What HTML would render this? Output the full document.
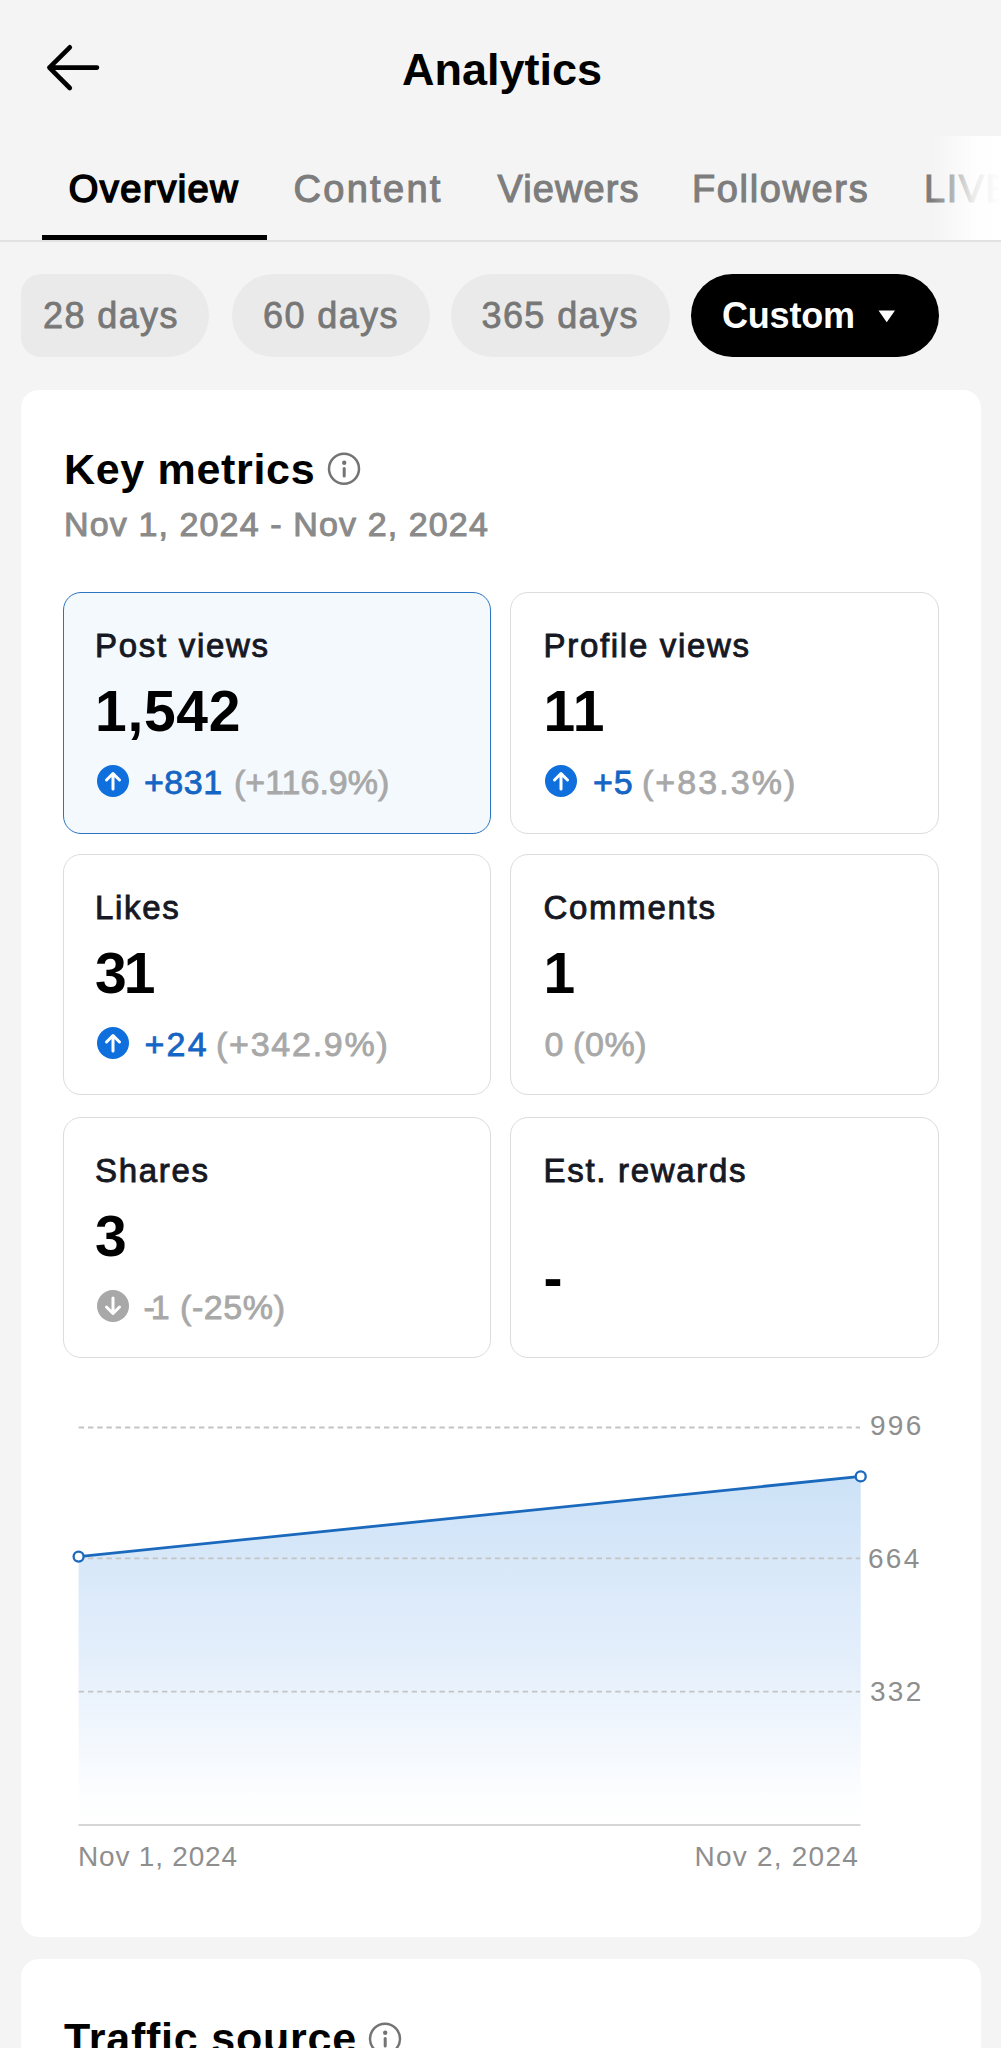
<!DOCTYPE html>
<html><head><meta charset="utf-8"><title>Analytics</title>
<style>
*{margin:0;padding:0;box-sizing:border-box}
html,body{width:1001px;height:2048px;overflow:hidden;background:#f4f4f4}
body{position:relative;font-family:"Liberation Sans",Arial,sans-serif;color:#161823}
.t{position:absolute;line-height:1;white-space:nowrap}
.b{font-weight:bold}
.abs{position:absolute}
.tab{font-size:38px;font-weight:normal;color:#7d7d7d;top:169.6px;-webkit-text-stroke:1.1px currentColor}
.pill{position:absolute;top:274px;height:83px;border-radius:41.5px;background:#eaeaea}
.ptxt{font-size:36px;color:#777;top:297.5px;letter-spacing:1.4px;-webkit-text-stroke:0.8px currentColor}
.card{position:absolute;left:21px;width:960px;background:#fff;border-radius:18px}
.m{position:absolute;width:428px;height:241px;border:1px solid #dcdcdc;border-radius:18px;background:#fff}
.m.r{width:429px}
.m.r>*{margin-left:1.5px}
.m .lbl{position:absolute;left:31px;top:35.7px;font-size:33px;line-height:1;white-space:nowrap;color:#161823;letter-spacing:1.7px;-webkit-text-stroke:0.9px currentColor}
.m .val{position:absolute;left:31px;top:89.7px;font-size:57px;font-weight:bold;line-height:1;white-space:nowrap;color:#000;letter-spacing:0.7px}
.m .chg{position:absolute;left:31px;top:172.2px;font-size:34px;line-height:1;white-space:nowrap;color:#a8a8a8;letter-spacing:0;-webkit-text-stroke:0.8px currentColor}
.m .chg.blue{color:#1565c4}
.m .ico{position:absolute;left:32.5px;top:172.1px;width:32px;height:32px}
.lab{font-size:28px;color:#8e8e8e;letter-spacing:2.3px}
</style></head>
<body>
<!-- header -->
<svg class="abs" style="left:0;top:0" width="120" height="120" viewBox="0 0 120 120"><path d="M69.8 47.3 L49.4 67.6 L69.8 88 M49.4 67.6 H97" fill="none" stroke="#000" stroke-width="4.6" stroke-linecap="round" stroke-linejoin="round"/></svg>
<div class="t b" style="left:402px;top:46.9px;font-size:45px;color:#000">Analytics</div>

<!-- tabs -->
<div class="t tab" style="left:68.8px;color:#000;letter-spacing:1.5px;-webkit-text-stroke:1.7px #000">Overview</div>
<div class="t tab" style="left:293.5px;letter-spacing:2.3px">Content</div>
<div class="t tab" style="left:497.5px;letter-spacing:1.1px">Viewers</div>
<div class="t tab" style="left:692px;letter-spacing:1.63px">Followers</div>
<div class="t tab" style="left:924px;letter-spacing:1.5px">LIVE</div>
<div class="abs" style="left:932px;top:136px;width:69px;height:104px;background:linear-gradient(to right,rgba(255,255,255,0),rgba(255,255,255,0.85) 60%,#fff)"></div>
<div class="abs" style="left:42px;top:234.5px;width:225px;height:5.5px;background:#000"></div>
<div class="abs" style="left:0;top:240px;width:1001px;height:2px;background:#e2e2e2"></div>

<!-- pills -->
<div class="pill" style="left:21px;width:187.5px;border-radius:20px 41.5px 41.5px 20px"></div>
<div class="t ptxt" style="left:43px">28 days</div>
<div class="pill" style="left:231.5px;width:198px"></div>
<div class="t ptxt" style="left:263px">60 days</div>
<div class="pill" style="left:451px;width:219px"></div>
<div class="t ptxt" style="left:481.5px">365 days</div>
<div class="pill" style="left:691px;width:248px;background:#000"></div>
<div class="t b" style="left:722px;top:298.4px;font-size:36px;color:#fff;letter-spacing:-0.2px">Custom</div>
<svg class="abs" style="left:878px;top:310px" width="18" height="13" viewBox="0 0 18 13"><path d="M0.5 0.5 H17 L8.75 12.2 Z" fill="#fff"/></svg>

<!-- main card -->
<div class="card" style="top:390px;height:1547px"></div>
<div class="t b" style="left:64px;top:448.4px;font-size:43px;color:#000;letter-spacing:0.68px">Key metrics</div>
<svg class="abs" style="left:327px;top:452px" width="34" height="34" viewBox="0 0 34 34"><circle cx="17" cy="16.8" r="15" fill="none" stroke="#747474" stroke-width="2.5"/><circle cx="17.2" cy="10.8" r="2.2" fill="#747474"/><path d="M17.2 16.6 V24" stroke="#747474" stroke-width="3" stroke-linecap="round"/></svg>
<div class="t" style="left:64px;top:507.1px;font-size:34px;color:#8a8a8a;letter-spacing:1.12px;-webkit-text-stroke:1px currentColor">Nov 1, 2024 - Nov 2, 2024</div>

<!-- metric cards -->
<div class="m" style="left:63px;top:592px;height:242px;background:#f4f9fd;border-color:#2a74c0">
  <div class="lbl">Post views</div>
  <div class="val">1,542</div>
  <svg class="ico" viewBox="0 0 32 32"><circle cx="16" cy="16" r="16" fill="#0f6fdc"/><path d="M16 24 V9 M9.5 15 L16 8.5 L22.5 15" fill="none" stroke="#fff" stroke-width="3" stroke-linecap="round" stroke-linejoin="round"/></svg>
  <div class="chg blue" style="left:80px;letter-spacing:0.5px">+831</div><div class="chg" style="left:170px">(+116.9%)</div>
</div>
<div class="m r" style="left:510px;top:592px;height:242px">
  <div class="lbl">Profile views</div>
  <div class="val">11</div>
  <svg class="ico" viewBox="0 0 32 32"><circle cx="16" cy="16" r="16" fill="#0f6fdc"/><path d="M16 24 V9 M9.5 15 L16 8.5 L22.5 15" fill="none" stroke="#fff" stroke-width="3" stroke-linecap="round" stroke-linejoin="round"/></svg>
  <div class="chg blue" style="left:80.5px;letter-spacing:1px">+5</div><div class="chg" style="left:129.5px;letter-spacing:2.05px">(+83.3%)</div>
</div>
<div class="m" style="left:63px;top:854px">
  <div class="lbl">Likes</div>
  <div class="val" style="letter-spacing:-3px">31</div>
  <svg class="ico" viewBox="0 0 32 32"><circle cx="16" cy="16" r="16" fill="#0f6fdc"/><path d="M16 24 V9 M9.5 15 L16 8.5 L22.5 15" fill="none" stroke="#fff" stroke-width="3" stroke-linecap="round" stroke-linejoin="round"/></svg>
  <div class="chg blue" style="left:80.5px;letter-spacing:2.2px">+24</div><div class="chg" style="left:152px;letter-spacing:1.75px">(+342.9%)</div>
</div>
<div class="m r" style="left:510px;top:854px">
  <div class="lbl">Comments</div>
  <div class="val">1</div>
  <div class="chg" style="left:32px">0</div><div class="chg" style="left:60.5px;letter-spacing:0.6px">(0%)</div>
</div>
<div class="m" style="left:63px;top:1117px">
  <div class="lbl">Shares</div>
  <div class="val">3</div>
  <svg class="ico" viewBox="0 0 32 32"><circle cx="16" cy="16" r="16" fill="#a8a8a8"/><path d="M16 8 V23 M9.5 17 L16 23.5 L22.5 17" fill="none" stroke="#fff" stroke-width="3" stroke-linecap="round" stroke-linejoin="round"/></svg>
  <div class="chg" style="left:79.5px;letter-spacing:-4px">-1</div><div class="chg" style="left:116px;letter-spacing:0.6px">(-25%)</div>
</div>
<div class="m r" style="left:510px;top:1117px">
  <div class="lbl">Est. rewards</div>
  <div class="val" style="top:132px">-</div>
</div>

<!-- chart -->
<svg class="abs" style="left:0;top:1390px" width="1001" height="450" viewBox="0 1390 1001 450">
  <defs><linearGradient id="g" x1="0" y1="0" x2="0" y2="1"><stop offset="0" stop-color="#cde2f7"/><stop offset="0.5" stop-color="#e3eefb"/><stop offset="0.93" stop-color="#fdfeff"/><stop offset="1" stop-color="#ffffff"/></linearGradient></defs>
  <path d="M78.6 1556.6 L860.7 1476.4 L860.7 1825 L78.6 1825 Z" fill="url(#g)"/>
  <g stroke="#c4c4c4" stroke-width="1.8" stroke-dasharray="5.4 3.85" stroke-dashoffset="-0.2">
    <line x1="78.5" y1="1427.5" x2="860" y2="1427.5"/>
    <line x1="78.5" y1="1558.3" x2="860" y2="1558.3"/>
    <line x1="78.5" y1="1691.6" x2="860" y2="1691.6"/>
  </g>
  <line x1="78.5" y1="1825" x2="860.5" y2="1825" stroke="#d6d6d6" stroke-width="2"/>
  <line x1="78.6" y1="1556.6" x2="860.7" y2="1476.4" stroke="#1a69bd" stroke-width="2.8"/>
  <circle cx="78.6" cy="1556.6" r="5" fill="#fff" stroke="#1a69bd" stroke-width="2.3"/>
  <circle cx="860.7" cy="1476.4" r="5" fill="#fff" stroke="#1a69bd" stroke-width="2.3"/>
</svg>
<div class="t lab" style="left:870px;top:1411.8px">996</div>
<div class="t lab" style="left:868px;top:1544.5px">664</div>
<div class="t lab" style="left:870px;top:1677.9px">332</div>
<div class="t lab" style="left:78px;top:1842.5px;letter-spacing:0.8px">Nov 1, 2024</div>
<div class="t lab" style="right:142px;top:1842.8px;letter-spacing:1.23px">Nov 2, 2024</div>

<!-- second card -->
<div class="card" style="top:1959px;height:200px"></div>
<div class="t b" style="left:64px;top:2017.3px;font-size:43px;color:#000;letter-spacing:0.78px">Traffic source</div>
<svg class="abs" style="left:368px;top:2022px" width="34" height="34" viewBox="0 0 34 34"><circle cx="17" cy="16.8" r="15" fill="none" stroke="#747474" stroke-width="2.5"/><circle cx="17.2" cy="10.8" r="2.2" fill="#747474"/><path d="M17.2 16.6 V24" stroke="#747474" stroke-width="3" stroke-linecap="round"/></svg>
</body></html>
